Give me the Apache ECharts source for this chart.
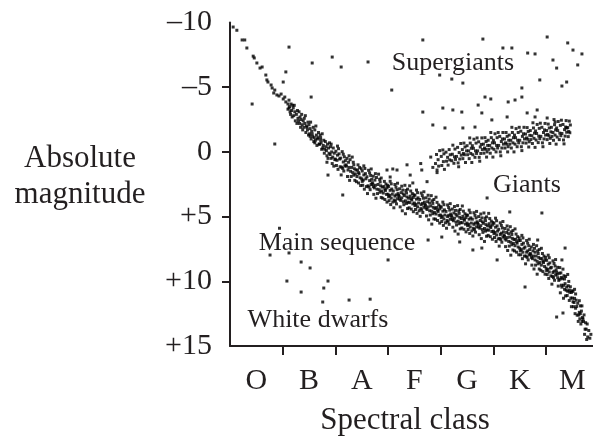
<!DOCTYPE html>
<html>
<head>
<meta charset="utf-8">
<script src="https://cdn.jsdelivr.net/npm/echarts@6/dist/echarts.min.js"></script>
<style>
html,body{margin:0;padding:0;background:#fff;}
#chart{width:593px;height:443px;}
</style>
</head>
<body>
<div id="chart"></div>
<script>
// Spectral class labels (one per band, between ticks)
const spectralClasses = ['O','B','A','F','G','K','M'];
// Absolute magnitude tick values
const magnitudeTicks = [-10,-5,0,5,10,15];

// [spectral position, absolute magnitude]
const mainSequence = [
[0.06,-9.65],[0.13,-9.4],[0.23,-8.65],[0.28,-8.65],[0.32,-8.03],[0.44,-7.4],[0.46,-7.26],[0.51,-6.87],[0.57,-6.48],[0.61,-6.56],
[0.68,-5.94],[0.70,-5.56],[0.72,-5.40],[0.78,-5.17],[0.80,-4.94],[0.83,-4.55],[0.85,-4.78],[0.89,-4.40],[0.93,-4.32],[0.97,-4.47],
[1.01,-4.09],[1.04,-4.24],[1.06,-3.86],[1.10,-3.70],[1.12,-3.39],
[1.10,-3.3],[1.12,-4.0],[1.13,-3.5],[1.15,-2.9],[1.16,-3.7],[1.17,-3.2],[1.19,-3.6],[1.14,-3.1],[1.18,-2.7],
[1.20,-3.4],[1.21,-2.8],[1.23,-3.1],[1.24,-2.4],[1.22,-3.6],[1.26,-2.9],[1.27,-2.2],[1.28,-3.2],[1.29,-2.6],
[1.30,-2.4],[1.31,-3.1],[1.33,-2.7],[1.34,-1.9],[1.35,-2.5],[1.36,-2.9],[1.37,-2.1],[1.39,-2.4],[1.38,-1.7],[1.32,-2.2],
[1.40,-1.9],[1.41,-2.6],[1.42,-2.2],[1.44,-1.5],[1.45,-2.0],[1.43,-2.8],[1.47,-1.7],[1.48,-2.3],[1.49,-1.3],[1.46,-1.9],
[1.50,-2.1],[1.51,-1.4],[1.52,-1.8],[1.54,-1.0],[1.55,-1.6],[1.53,-2.3],[1.57,-1.2],[1.58,-1.9],[1.59,-0.8],[1.56,-1.4],[1.52,-1.2],
[1.60,-1.1],[1.61,-1.7],[1.62,-0.9],[1.64,-1.3],[1.65,-0.5],[1.63,-2.0],[1.66,-1.0],[1.68,-1.5],[1.69,-0.6],[1.67,-1.1],[1.61,-0.7],
[1.70,-0.6],[1.71,-1.3],[1.72,-0.9],[1.74,-0.2],[1.73,-0.7],[1.75,-1.4],[1.77,-0.5],[1.78,-0.9],[1.79,0.1],[1.76,-0.3],[1.72,-1.1],
[1.80,-0.2],[1.81,-0.8],[1.82,-0.4],[1.84,0.3],[1.83,-0.1],[1.85,-0.6],[1.86,0.5],[1.87,-0.3],[1.88,0.1],[1.89,-0.7],[1.84,0.8],
[1.90,0.2],[1.91,-0.4],[1.92,0.5],[1.93,0.0],[1.94,0.9],[1.96,-0.3],[1.95,0.4],[1.97,1.1],[1.98,0.1],[1.99,0.6],[1.92,-0.6],
[2.00,0.55],[2.01,-0.05],[2.02,1.05],[2.04,0.25],[2.03,0.65],[2.05,1.35],[2.06,-0.25],[2.08,0.55],[2.07,0.15],[2.09,1.15],[2.04,-0.45],
[2.10,0.48],[2.12,1.18],[2.13,-0.02],[2.15,0.78],[2.16,1.48],[2.17,0.38],[2.18,1.08],[2.19,0.68],[2.11,1.78],[2.14,1.28],[2.15,0.18],
[2.21,1.1],[2.22,0.5],[2.23,1.9],[2.24,1.4],[2.25,0.8],[2.26,1.2],[2.27,2.2],[2.28,0.6],[2.29,1.5],[2.20,1.0],[2.26,0.3],
[2.30,1.9],[2.31,1.2],[2.33,1.6],[2.34,0.8],[2.35,1.8],[2.36,1.3],[2.37,2.2],[2.39,1.4],[2.32,0.4],[2.38,1.7],[2.35,1.0],
[2.41,1.9],[2.42,1.4],[2.43,1.0],[2.44,2.4],[2.45,1.7],[2.47,2.0],[2.46,1.2],[2.48,2.6],[2.49,1.3],[2.40,2.3],[2.44,1.6],
[2.50,2.08],[2.51,1.48],[2.52,2.58],[2.54,1.78],[2.53,2.18],[2.55,2.88],[2.56,1.28],[2.58,2.08],[2.57,1.68],[2.59,2.68],[2.54,1.08],[2.51,2.28],
[2.60,1.92],[2.62,2.62],[2.63,1.42],[2.65,2.22],[2.66,2.92],[2.67,1.82],[2.68,2.52],[2.69,2.12],[2.61,3.22],[2.64,2.72],[2.65,1.62],[2.68,1.32],
[2.71,2.48],[2.72,1.88],[2.73,3.28],[2.74,2.78],[2.75,2.18],[2.76,2.58],[2.77,3.58],[2.78,1.98],[2.79,2.88],[2.70,2.38],[2.76,1.68],[2.72,2.68],
[2.80,3.22],[2.81,2.52],[2.83,2.92],[2.84,2.12],[2.85,3.12],[2.86,2.62],[2.87,3.52],[2.89,2.72],[2.82,1.72],[2.88,3.02],[2.85,2.32],[2.87,2.02],
[2.91,3.18],[2.92,2.68],[2.93,2.28],[2.94,3.68],[2.95,2.98],[2.97,3.28],[2.96,2.48],[2.98,3.88],[2.99,2.58],[2.90,3.58],[2.94,2.88],[2.98,2.78],
[3.00,3.27],[3.01,2.67],[3.02,3.77],[3.04,2.97],[3.03,3.37],[3.05,4.07],[3.06,2.47],[3.08,3.27],[3.07,2.87],[3.09,3.87],[3.04,2.27],[3.01,3.47],[3.06,3.57],
[3.10,3.02],[3.12,3.72],[3.13,2.52],[3.15,3.32],[3.16,4.02],[3.17,2.92],[3.18,3.62],[3.19,3.22],[3.11,4.32],[3.14,3.82],[3.15,2.72],[3.18,2.42],[3.13,3.42],
[3.21,3.45],[3.22,2.85],[3.23,4.25],[3.24,3.75],[3.25,3.15],[3.26,3.55],[3.27,4.55],[3.28,2.95],[3.29,3.85],[3.20,3.35],[3.26,2.65],[3.22,3.65],[3.29,3.25],
[3.30,4.08],[3.31,3.38],[3.33,3.78],[3.34,2.98],[3.35,3.98],[3.36,3.48],[3.37,4.38],[3.39,3.58],[3.32,2.58],[3.38,3.88],[3.35,3.18],[3.37,2.88],[3.33,4.78],
[3.41,3.92],[3.42,3.42],[3.43,3.02],[3.44,4.42],[3.45,3.72],[3.47,4.02],[3.46,3.22],[3.48,4.62],[3.49,3.32],[3.40,4.32],[3.44,3.62],[3.48,3.52],[3.41,2.62],
[3.50,3.95],[3.51,3.35],[3.52,4.45],[3.54,3.65],[3.53,4.05],[3.55,4.75],[3.56,3.15],[3.58,3.95],[3.57,3.55],[3.59,4.55],[3.54,2.95],[3.51,4.15],[3.56,4.25],
[3.60,3.68],[3.62,4.38],[3.63,3.18],[3.65,3.98],[3.66,4.68],[3.67,3.58],[3.68,4.28],[3.69,3.88],[3.61,4.98],[3.64,4.48],[3.65,3.38],[3.68,3.08],[3.63,4.08],
[3.71,4.15],[3.72,3.55],[3.73,4.95],[3.74,4.45],[3.75,3.85],[3.76,4.25],[3.77,5.25],[3.78,3.65],[3.79,4.55],[3.70,4.05],[3.76,3.35],[3.72,4.35],[3.79,3.95],
[3.80,4.88],[3.81,4.18],[3.83,4.58],[3.84,3.78],[3.85,4.78],[3.86,4.28],[3.87,5.18],[3.89,4.38],[3.82,3.38],[3.88,4.68],[3.85,3.98],[3.87,3.68],[3.83,5.58],
[3.91,4.8],[3.92,4.3],[3.93,3.9],[3.94,5.3],[3.95,4.6],[3.97,4.9],[3.96,4.1],[3.98,5.5],[3.99,4.2],[3.90,5.2],[3.94,4.5],[3.98,4.4],[3.91,3.5],
[4.00,4.88],[4.01,4.28],[4.02,5.38],[4.04,4.58],[4.03,4.98],[4.05,5.68],[4.06,4.08],[4.08,4.88],[4.07,4.48],[4.09,5.48],[4.04,3.88],[4.01,5.08],[4.06,5.18],
[4.10,4.6],[4.12,5.3],[4.13,4.1],[4.15,4.9],[4.16,5.6],[4.17,4.5],[4.18,5.2],[4.19,4.8],[4.11,5.9],[4.14,5.4],[4.15,4.3],[4.18,4.0],[4.13,5.0],
[4.21,5.02],[4.22,4.42],[4.23,5.82],[4.24,5.32],[4.25,4.72],[4.26,5.12],[4.27,6.12],[4.28,4.52],[4.29,5.42],[4.20,4.92],[4.26,4.22],[4.22,5.22],[4.29,4.82],
[4.30,5.65],[4.31,4.95],[4.33,5.35],[4.34,4.55],[4.35,5.55],[4.36,5.05],[4.37,5.95],[4.39,5.15],[4.32,4.15],[4.38,5.45],[4.35,4.75],[4.37,4.45],[4.33,6.35],
[4.41,5.48],[4.42,4.98],[4.43,4.58],[4.44,5.98],[4.45,5.28],[4.47,5.58],[4.46,4.78],[4.48,6.18],[4.49,4.88],[4.40,5.88],[4.44,5.18],[4.48,5.08],[4.41,4.18],
[4.50,5.5],[4.51,4.9],[4.52,6.0],[4.54,5.2],[4.53,5.6],[4.55,6.3],[4.56,4.7],[4.58,5.5],[4.57,5.1],[4.59,6.1],[4.54,4.5],[4.51,5.7],[4.56,5.8],
[4.60,5.2],[4.62,5.9],[4.63,4.7],[4.65,5.5],[4.66,6.2],[4.67,5.1],[4.68,5.8],[4.69,5.4],[4.61,6.5],[4.64,6.0],[4.65,4.9],[4.68,4.6],[4.63,5.6],
[4.71,5.6],[4.72,5.0],[4.73,6.4],[4.74,5.9],[4.75,5.3],[4.76,5.7],[4.77,6.7],[4.78,5.1],[4.79,6.0],[4.70,5.5],[4.76,4.8],[4.72,5.8],[4.79,5.4],
[4.80,6.22],[4.81,5.52],[4.83,5.92],[4.84,5.12],[4.85,6.12],[4.86,5.62],[4.87,6.52],[4.89,5.72],[4.82,4.72],[4.88,6.02],[4.85,5.32],[4.87,5.02],[4.83,6.92],
[4.91,6.05],[4.92,5.55],[4.93,5.15],[4.94,6.55],[4.95,5.85],[4.97,6.15],[4.96,5.35],[4.98,6.75],[4.99,5.45],[4.90,6.45],[4.94,5.75],[4.98,5.65],[4.91,4.75],
[5.00,6.12],[5.01,5.52],[5.02,6.62],[5.04,5.82],[5.03,6.22],[5.05,6.92],[5.06,5.32],[5.08,6.12],[5.07,5.72],[5.09,6.72],[5.04,5.12],[5.01,6.32],[5.06,6.42],
[5.10,5.98],[5.12,6.68],[5.13,5.48],[5.15,6.28],[5.16,6.98],[5.17,5.88],[5.18,6.58],[5.19,6.18],[5.11,7.28],[5.14,6.78],[5.15,5.68],[5.18,5.38],[5.13,6.38],
[5.21,6.52],[5.22,5.92],[5.23,7.32],[5.24,6.82],[5.25,6.22],[5.26,6.62],[5.27,7.62],[5.28,6.02],[5.29,6.92],[5.20,6.42],[5.26,5.72],[5.22,6.72],[5.29,6.32],
[5.30,7.28],[5.31,6.58],[5.33,6.98],[5.34,6.18],[5.35,7.18],[5.36,6.68],[5.37,7.58],[5.39,6.78],[5.32,5.78],[5.38,7.08],[5.35,6.38],[5.37,6.08],[5.33,7.98],
[5.41,7.25],[5.42,6.75],[5.43,6.35],[5.44,7.75],[5.45,7.05],[5.47,7.35],[5.46,6.55],[5.48,7.95],[5.49,6.65],[5.40,7.65],[5.44,6.95],[5.48,6.85],[5.41,5.95],
[5.50,7.45],[5.51,6.85],[5.52,7.95],[5.54,7.15],[5.53,7.55],[5.55,8.25],[5.56,6.65],[5.58,7.45],[5.57,7.05],[5.59,8.05],[5.54,6.45],[5.51,7.65],[5.56,7.75],
[5.60,7.35],[5.62,8.05],[5.63,6.85],[5.65,7.65],[5.66,8.35],[5.67,7.25],[5.68,7.95],[5.69,7.55],[5.61,8.65],[5.64,8.15],[5.65,7.05],[5.68,6.75],[5.63,7.75],
[5.71,7.95],[5.72,7.35],[5.73,8.75],[5.74,8.25],[5.75,7.65],[5.76,8.05],[5.77,9.05],[5.78,7.45],[5.79,8.35],[5.70,7.85],[5.76,7.15],[5.72,8.15],[5.79,7.75],
[5.80,8.75],[5.81,8.05],[5.83,8.45],[5.84,7.65],[5.85,8.65],[5.86,8.15],[5.87,9.05],[5.89,8.25],[5.82,7.25],[5.88,8.55],[5.85,7.85],[5.87,7.55],[5.83,9.45],
[5.91,8.75],[5.92,8.25],[5.93,7.85],[5.94,9.25],[5.95,8.55],[5.97,8.85],[5.96,8.05],[5.98,9.45],[5.99,8.15],[5.90,9.15],[5.94,8.45],[5.98,8.35],[5.91,7.45],
[6.00,8.98],[6.01,8.38],[6.02,9.48],[6.04,8.68],[6.03,9.08],[6.05,9.78],[6.06,8.18],[6.08,8.98],[6.07,8.58],[6.09,9.58],[6.04,7.98],[6.01,9.18],[6.06,9.28],
[6.10,8.92],[6.12,9.62],[6.13,8.42],[6.15,9.22],[6.16,9.92],[6.17,8.82],[6.18,9.52],[6.19,9.12],[6.11,10.22],[6.14,9.72],[6.15,8.62],[6.18,8.32],[6.13,9.32],
[6.21,9.46],[6.22,8.92],[6.23,10.37],[6.24,9.93],[6.25,9.38],[6.26,9.84],[6.27,10.89],[6.28,9.35],[6.29,10.3],[6.20,9.3],[6.26,8.94],[6.22,9.72],[6.29,9.7],
[6.30,10.45],[6.31,9.8],[6.33,10.31],[6.34,9.57],[6.35,10.62],[6.36,10.18],[6.37,11.13],[6.39,10.44],[6.32,9.06],[6.38,10.69],[6.35,9.82],[6.37,9.63],[6.33,11.31],
[6.41,10.77],[6.42,10.34],[6.43,10.01],[6.44,11.48],[6.45,10.85],[6.47,11.29],[6.46,10.42],[6.48,11.96],[6.49,10.73],[6.40,11.1],[6.44,10.68],[6.48,10.86],[6.41,9.47],
[6.50,11.3],[6.51,10.78],[6.52,11.96],[6.54,11.32],[6.53,11.64],[6.55,12.5],[6.56,10.98],[6.58,11.94],[6.57,11.46],[6.59,12.62],[6.54,10.62],[6.51,11.58],[6.56,12.08],
[6.60,11.7],[6.62,12.6],[6.63,11.5],[6.65,12.5],[6.66,13.3],[6.67,12.3],[6.68,13.1],[6.69,12.8],[6.61,13.1],[6.64,12.9],[6.65,11.9],[6.68,11.9],[6.63,12.4],
[6.71,13.1],[6.72,12.6],[6.73,14.1],[6.74,13.7],[6.75,13.2],[6.76,13.7],[6.77,14.5],[6.78,13.3],[6.79,14.3],[6.70,12.9],
[6.81,13.8],[6.83,14.4],[6.85,14.1]
];

const mainSequenceStrays = [
[3.76,6.81],[4.02,6.58],[4.36,6.96],[4.61,7.58],[4.78,7.43],[5.07,8.35],[5.60,10.44],[6.20,12.76],[6.32,12.45],
[5.84,6.81],[5.92,4.72],[4.88,3.56],[5.31,4.64],[6.36,7.43],[6.30,8.35],[2.14,3.33],[1.86,1.79],
[2.98,1.40],[3.09,1.32],[3.42,1.79],[3.36,1.0],[3.17,1.4],[3.04,1.94],[3.74,2.3],[3.47,2.4]
];

const giants = [
[3.62,0.9],[3.64,1.4],[3.81,0.4],[3.85,1.2],[3.93,1.6],
[3.90,0.9],[3.92,0.2],[3.93,1.4],[3.95,0.6],[3.96,1.1],[3.98,-0.1],
[4.01,0.35],[4.02,1.05],[4.04,-0.15],[4.05,0.75],[4.06,0.15],[4.07,1.35],
[4.10,0.02],[4.11,0.72],[4.13,0.42],[4.14,1.02],[4.16,-0.18],[4.17,0.62],[4.18,0.22],
[4.21,0.68],[4.22,0.18],[4.23,-0.52],[4.25,0.88],[4.26,0.38],[4.27,-0.22],[4.28,0.58],
[4.30,0.35],[4.32,-0.35],[4.33,0.85],[4.35,0.05],[4.36,0.55],[4.38,-0.65],[4.39,0.25],[4.34,1.15],
[4.41,-0.18],[4.42,0.52],[4.44,-0.68],[4.45,0.22],[4.46,-0.38],[4.47,0.82],[4.49,-0.08],[4.43,0.12],
[4.50,-0.48],[4.51,0.22],[4.53,-0.08],[4.54,0.52],[4.56,-0.68],[4.57,0.12],[4.58,-0.28],[4.59,0.82],[4.55,-1.08],
[4.61,0.22],[4.62,-0.28],[4.63,-0.98],[4.65,0.42],[4.66,-0.08],[4.67,-0.68],[4.68,0.12],[4.60,-0.48],[4.69,-1.08],
[4.70,-0.08],[4.72,-0.78],[4.73,0.42],[4.75,-0.38],[4.76,0.12],[4.78,-1.08],[4.79,-0.18],[4.74,0.72],[4.77,-0.58],
[4.81,-0.6],[4.82,0.1],[4.84,-1.1],[4.85,-0.2],[4.86,-0.8],[4.87,0.4],[4.89,-0.5],[4.83,-0.3],[4.88,0.0],
[4.90,-0.9],[4.91,-0.2],[4.93,-0.5],[4.94,0.1],[4.96,-1.1],[4.97,-0.3],[4.98,-0.7],[4.99,0.4],[4.95,-1.5],
[5.01,-0.2],[5.02,-0.7],[5.03,-1.4],[5.05,0.0],[5.06,-0.5],[5.07,-1.1],[5.08,-0.3],[5.00,-0.9],[5.09,-1.5],
[5.10,-0.5],[5.12,-1.2],[5.13,0.0],[5.15,-0.8],[5.16,-0.3],[5.18,-1.5],[5.19,-0.6],[5.14,0.3],[5.17,-1.0],
[5.21,-1.0],[5.22,-0.3],[5.24,-1.5],[5.25,-0.6],[5.26,-1.2],[5.27,0.0],[5.29,-0.9],[5.23,-0.7],[5.28,-0.4],
[5.30,-1.3],[5.31,-0.6],[5.33,-0.9],[5.34,-0.3],[5.36,-1.5],[5.37,-0.7],[5.38,-1.1],[5.39,0.0],[5.35,-1.9],
[5.41,-0.6],[5.42,-1.1],[5.43,-1.8],[5.45,-0.4],[5.46,-0.9],[5.47,-1.5],[5.48,-0.7],[5.40,-1.3],[5.49,-1.9],
[5.50,-0.9],[5.52,-1.6],[5.53,-0.4],[5.55,-1.2],[5.56,-0.7],[5.58,-1.9],[5.59,-1.0],[5.54,-0.1],[5.57,-1.4],
[5.61,-1.38],[5.62,-0.68],[5.64,-1.88],[5.65,-0.98],[5.66,-1.58],[5.67,-0.38],[5.69,-1.28],[5.63,-1.08],[5.68,-0.78],
[5.70,-1.65],[5.71,-0.95],[5.73,-1.25],[5.74,-0.65],[5.76,-1.85],[5.77,-1.05],[5.78,-1.45],[5.79,-0.35],[5.75,-2.25],
[5.81,-0.92],[5.82,-1.42],[5.83,-2.12],[5.85,-0.72],[5.86,-1.22],[5.87,-1.82],[5.88,-1.02],[5.80,-1.62],[5.89,-2.22],
[5.90,-1.2],[5.92,-1.9],[5.93,-0.7],[5.95,-1.5],[5.96,-1.0],[5.98,-2.2],[5.99,-1.3],[5.94,-0.4],[5.97,-1.7],
[6.01,-1.65],[6.02,-0.95],[6.04,-2.15],[6.05,-1.25],[6.06,-1.85],[6.07,-0.65],[6.09,-1.55],[6.03,-1.35],[6.08,-1.05],
[6.10,-1.9],[6.11,-1.2],[6.13,-1.5],[6.14,-0.9],[6.16,-2.1],[6.17,-1.3],[6.18,-1.7],[6.19,-0.6],[6.15,-2.5],
[6.21,-1.15],[6.22,-1.65],[6.23,-2.35],[6.25,-0.95],[6.26,-1.45],[6.27,-2.05],[6.28,-1.25],[6.20,-1.85],[6.29,-2.45],
[6.30,-1.42],[6.32,-2.12],[6.33,-0.92],[6.35,-1.72],[6.36,-1.22],[6.38,-2.42],[6.39,-1.52],[6.34,-0.62],[6.37,-1.92],
[6.41,-1.88],[6.42,-1.18],[6.44,-2.38],[6.45,-1.48],[6.46,-2.08],[6.43,-1.58]
];

const supergiants = [
[3.66,-8.65],[4.80,-8.72],[5.18,-8.03],[5.35,-8.03],[6.02,-8.88],[6.41,-8.42],[6.51,-7.87],[6.68,-7.57],[6.60,-6.72],
[5.65,-7.64],[5.79,-7.57],[6.13,-7.10],[6.20,-6.48],[3.98,-5.94],[4.21,-5.63],[4.42,-5.32],[5.88,-5.56],[6.39,-5.40],
[6.30,-5.09],[3.07,-4.78],[5.54,-4.94],[4.84,-4.24],[4.95,-4.09],[4.71,-3.62],[5.28,-3.86],[5.41,-4.01],[5.54,-4.24],
[3.66,-3.08],[4.04,-3.39],[4.23,-3.24],[4.40,-3.08],[4.78,-3.01],[5.64,-3.01],[5.79,-2.70],[5.83,-3.24],[6.02,-2.62],
[6.17,-2.31],[3.85,-2.08],[4.08,-1.85],[4.42,-1.85],[4.65,-1.92],[4.97,-2.47],[5.26,-2.70],[6.39,-1.85],
[1.12,-8.1],[1.56,-6.87],[1.94,-7.33],[2.11,-6.56],[2.62,-6.95],[1.06,-6.18],[1.01,-5.40],[1.54,-4.24],[0.42,-3.70],[0.85,-0.61]
];

const whiteDwarfs = [
[0.94,5.9],[0.76,7.97],[1.12,7.81],[1.35,8.51],[1.52,8.97],[1.08,9.98],[1.35,10.83],[1.86,9.98],[1.78,10.52],
[1.76,11.6],[2.26,11.45],[2.66,11.38],[3.0,8.35]
];

const TEXT = '#231f20';
const FONT = 'Liberation Serif, Times New Roman, serif';

function fmtMag(v){
  if (v < 0) return '\u2013' + Math.abs(v);
  if (v > 0) return '+' + v;
  return '0';
}

const dotSeries = (name, data) => ({
  name, type: 'scatter', data,
  symbol: 'rect', symbolSize: 3,
  itemStyle: { color: '#000' },
  silent: true, animation: false
});

const chart = echarts.init(document.getElementById('chart'), null, { renderer: 'canvas' });
chart.setOption({
  backgroundColor: '#fff',
  animation: false,
  grid: { left: 230, top: 22.5, right: 0, bottom: 97, containLabel: false },
  xAxis: {
    type: 'value', min: 0, max: 6.89, interval: 1,
    axisLine: { show: true, onZero: false, lineStyle: { color: TEXT, width: 2 } },
    axisTick: { show: true, length: 9, lineStyle: { color: TEXT, width: 2 }, customValues: [1,2,3,4,5,6] },
    axisLabel: {
      customValues: spectralClasses.map((_, i) => i + 0.5),
      formatter: v => spectralClasses[Math.floor(v)],
      color: TEXT, fontFamily: FONT, fontSize: 30, margin: 20
    },
    splitLine: { show: false }
  },
  yAxis: {
    type: 'value', inverse: true, min: -10, max: 15, interval: 5,
    axisLine: { show: true, onZero: false, lineStyle: { color: TEXT, width: 2 } },
    axisTick: { show: true, length: 8, lineStyle: { color: TEXT, width: 2 }, customValues: [-5,0,5,10] },
    axisLabel: {
      customValues: magnitudeTicks,
      formatter: fmtMag,
      color: TEXT, fontFamily: FONT, fontSize: 30, margin: 18
    },
    splitLine: { show: false }
  },
  graphic: [
    { type: 'text', x: 80, y: 177, style: { text: 'Absolute\nmagnitude', fill: TEXT, font: '31px ' + FONT, textAlign: 'center', textVerticalAlign: 'middle', lineHeight: 36 } },
    { type: 'text', x: 405, y: 421, style: { text: 'Spectral class', fill: TEXT, font: '31px ' + FONT, textAlign: 'center', textVerticalAlign: 'middle' } },
    { type: 'text', x: 453, y: 63, style: { text: 'Supergiants', fill: TEXT, font: '26px ' + FONT, textAlign: 'center', textVerticalAlign: 'middle' } },
    { type: 'text', x: 527, y: 185, style: { text: 'Giants', fill: TEXT, font: '26px ' + FONT, textAlign: 'center', textVerticalAlign: 'middle' } },
    { type: 'text', x: 337, y: 243, style: { text: 'Main sequence', fill: TEXT, font: '26px ' + FONT, textAlign: 'center', textVerticalAlign: 'middle' } },
    { type: 'text', x: 318, y: 320, style: { text: 'White dwarfs', fill: TEXT, font: '26px ' + FONT, textAlign: 'center', textVerticalAlign: 'middle' } }
  ],
  series: [
    dotSeries('Main sequence', mainSequence),
    dotSeries('Main sequence strays', mainSequenceStrays),
    dotSeries('Giants', giants),
    dotSeries('Supergiants', supergiants),
    dotSeries('White dwarfs', whiteDwarfs)
  ]
});
</script>
</body>
</html>
